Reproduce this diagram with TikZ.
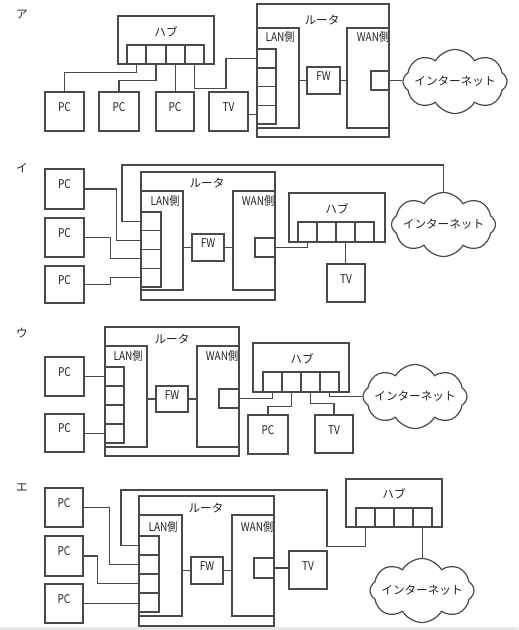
\documentclass[tikz,border=0pt]{standalone}
\usepackage{fontspec}
\newfontfamily\jp{Noto Sans CJK JP}
\newfontfamily\jpc[FakeStretch=0.84]{Noto Sans CJK JP}
\usetikzlibrary{fit,shapes.symbols}
\definecolor{lc}{HTML}{4A4A4A}
\definecolor{tc}{HTML}{222222}
\tikzset{
  bx/.style={draw=lc,line width=0.9pt,inner sep=0pt,font=\jpc\fontsize{9}{10}\selectfont,text=tc},
  lbl/.style={font=\jp\fontsize{8.7}{10}\selectfont,text=tc,inner sep=0pt},
  lblc/.style={font=\jpc\fontsize{9}{10}\selectfont,text=tc,inner sep=0pt},
  ln/.style={draw=lc,line width=0.9pt},
  cl/.style={cloud,cloud puffs=8,cloud puff arc=120,cloud ignores aspect,draw=lc,line width=0.9pt,fill=white,minimum width=78pt,minimum height=48pt,inner sep=0pt,shape border rotate=22.5}
}
\begin{document}
\begin{tikzpicture}[x=0.75pt,y=-0.75pt]
\useasboundingbox (0,0) rectangle (518,630);
\fill[gray!18] (0,627) rectangle (518,630);

% ===== Panel A =====
\node[lbl] (aL) at (22,15) {ア};
\node[bx,fit={(118,16)(214,64)}] (ahub) {};
\node[lbl] (ahubt) at (166,32) {ハブ};
\node[bx,fit={(127,45)(146,64)}] (ahp1) {};
\node[bx,fit={(146,45)(166,64)}] (ahp2) {};
\node[bx,fit={(166,45)(185,64)}] (ahp3) {};
\node[bx,fit={(185,45)(204,64)}] (ahp4) {};
\node[bx,fit={(45,92)(84,131)}] (apc1) {PC};
\node[bx,fit={(99,92)(139,131)}] (apc2) {PC};
\node[bx,fit={(156,92)(194,131)}] (apc3) {PC};
\node[bx,fit={(209,92)(248,131)}] (atv) {TV};
\node[bx,fit={(257,4)(389,137)}] (art) {};
\node[lbl] (artt) at (322,20) {ルータ};
\node[bx,fit={(257,28)(299,128)}] (alan) {};
\node[lblc] (alant) at (280,37) {LAN側};
\node[bx,fit={(257,49)(276,68)}] (alp1) {};
\node[bx,fit={(257,68)(276,86.5)}] (alp2) {};
\node[bx,fit={(257,86.5)(276,105.5)}] (alp3) {};
\node[bx,fit={(257,105.5)(276,124)}] (alp4) {};
\node[bx,fit={(307,67)(340,94)}] (afw) {FW};
\node[bx,fit={(347,28)(389,128)}] (awan) {};
\node[lblc] (awant) at (373,37) {WAN側};
\node[bx,fit={(371,71)(389,90)}] (awp) {};
\node[cl] (acl) at (455,81.5) {};
\node[lbl] (aclt) at (acl) {インターネット};
\draw[ln] (ahp1.south) -- ++(0,8) -| (apc1.north);
\draw[ln] (ahp2.south) -- ++(0,16) -| (apc2.north);
\draw[ln] (ahp3.south) -- (ahp3.south |- apc3.north);
\draw[ln] (ahp4.south) -- ++(0,24) -- ++(31.5,0) |- (alp1.west);
\draw[ln] (atv.east |- alp4.west) -- (alp4.west);
\draw[ln] (alan.east |- afw.west) -- (afw.west);
\draw[ln] (afw.east) -- (afw.east -| awan.west);
\draw[ln] (awp.east) -- (awp.east -| acl.west);

% ===== Panel I =====
\node[lbl] (bL) at (22,168) {イ};
\node[bx,fit={(45,169)(84,209)}] (bpc1) {PC};
\node[bx,fit={(45,218)(84,257)}] (bpc2) {PC};
\node[bx,fit={(45,266)(84,303)}] (bpc3) {PC};
\node[bx,fit={(141,172)(275,300)}] (brt) {};
\node[lbl] (brtt) at (207,183) {ルータ};
\node[bx,fit={(141,191)(183,290)}] (blan) {};
\node[lblc] (blant) at (165,201) {LAN側};
\node[bx,fit={(141,212)(161,230.75)}] (blp1) {};
\node[bx,fit={(141,230.75)(161,249.5)}] (blp2) {};
\node[bx,fit={(141,249.5)(161,268.25)}] (blp3) {};
\node[bx,fit={(141,268.25)(161,287)}] (blp4) {};
\node[bx,fit={(192,234)(224,261)}] (bfw) {FW};
\node[bx,fit={(233,191)(275,290)}] (bwan) {};
\node[lblc] (bwant) at (258,201) {WAN側};
\node[bx,fit={(255,238)(275,257)}] (bwp) {};
\node[bx,fit={(289,193)(385,242)}] (bhub) {};
\node[lbl] (bhubt) at (337,209) {ハブ};
\node[bx,fit={(298,222)(317,242)}] (bhp1) {};
\node[bx,fit={(317,222)(336,242)}] (bhp2) {};
\node[bx,fit={(336,222)(355,242)}] (bhp3) {};
\node[bx,fit={(355,222)(374,242)}] (bhp4) {};
\node[bx,fit={(327,264)(365,302)}] (btv) {TV};
\node[cl] (bcl) at (443.5,224.5) {};
\node[lbl] (bclt) at (bcl) {インターネット};
\coordinate (bturn) at (122,165);
\draw[ln] (bcl.north) |- (bturn) |- (blp1.west);
\draw[ln] (bpc1.east) -- ++(32,0) |- (blp2.west);
\draw[ln] (bpc2.east) -- ++(26,0) |- (blp3.west);
\draw[ln] (bpc3.east) -- ++(26,0) |- (blp4.west);
\draw[ln] (blan.east |- bfw.west) -- (bfw.west);
\draw[ln] (bfw.east) -- (bfw.east -| bwan.west);
\draw[ln] (bwp.east) -| (bhp1.south);
\draw[ln] (bhp3.south) -- (bhp3.south |- btv.north);

% ===== Panel U =====
\node[lbl] (cL) at (22,333) {ウ};
\node[bx,fit={(45,357)(84,396)}] (cpc1) {PC};
\node[bx,fit={(45,414)(84,452)}] (cpc2) {PC};
\node[bx,fit={(105,327)(239,456)}] (crt) {};
\node[lbl] (crtt) at (172,339) {ルータ};
\node[bx,fit={(105,346)(147,447)}] (clan) {};
\node[lblc] (clant) at (128,356) {LAN側};
\node[bx,fit={(105,367)(124,386)}] (clp1) {};
\node[bx,fit={(105,386)(124,405)}] (clp2) {};
\node[bx,fit={(105,405)(124,424)}] (clp3) {};
\node[bx,fit={(105,424)(124,443)}] (clp4) {};
\node[bx,fit={(156,386)(188,412)}] (cfw) {FW};
\node[bx,fit={(197,346)(239,447)}] (cwan) {};
\node[lblc] (cwant) at (222,356) {WAN側};
\node[bx,fit={(219,389)(239,408)}] (cwp) {};
\node[bx,fit={(253,343)(349,392)}] (chub) {};
\node[lbl] (chubt) at (302,359) {ハブ};
\node[bx,fit={(263,372)(282,392)}] (chp1) {};
\node[bx,fit={(282,372)(301,392)}] (chp2) {};
\node[bx,fit={(301,372)(320,392)}] (chp3) {};
\node[bx,fit={(320,372)(339,392)}] (chp4) {};
\node[bx,fit={(248,415)(288,454)}] (cpc3) {PC};
\node[bx,fit={(315,415)(353,453)}] (ctv) {TV};
\node[cl] (ccl) at (415,396.5) {};
\node[lbl] (cclt) at (ccl) {インターネット};
\draw[ln] (cpc1.east) -- (cpc1.east -| clp1.west);
\draw[ln] (clp4.west -| cpc2.east) -- (clp4.west);
\draw[ln] (clan.east |- cfw.west) -- (cfw.west);
\draw[ln] (cfw.east) -- (cfw.east -| cwan.west);
\draw[ln] (cwp.east) -| (chp1.south);
\draw[ln] (chp2.south) -- ++(0,14) -| (cpc3.north);
\draw[ln] (chp3.south) -- ++(0,11) -| (ctv.north);
\draw[ln] (chp4.south) |- (ccl.west);

% ===== Panel E =====
\node[lbl] (dL) at (22,488) {エ};
\node[bx,fit={(45,488)(83,527)}] (dpc1) {PC};
\node[bx,fit={(45,536)(83,576)}] (dpc2) {PC};
\node[bx,fit={(45,584)(83,623)}] (dpc3) {PC};
\node[bx,fit={(139,496)(274,626)}] (drt) {};
\node[lbl] (drtt) at (206,508) {ルータ};
\node[bx,fit={(139,515)(182,616)}] (dlan) {};
\node[lblc] (dlant) at (163,527) {LAN側};
\node[bx,fit={(139,536)(159,555)}] (dlp1) {};
\node[bx,fit={(139,555)(159,574)}] (dlp2) {};
\node[bx,fit={(139,574)(159,593)}] (dlp3) {};
\node[bx,fit={(139,593)(159,612)}] (dlp4) {};
\node[bx,fit={(191,557)(223,584)}] (dfw) {FW};
\node[bx,fit={(232,515)(274,616)}] (dwan) {};
\node[lblc] (dwant) at (257,527) {WAN側};
\node[bx,fit={(254,558)(274,578)}] (dwp) {};
\node[bx,fit={(289,551)(327,589)}] (dtv) {TV};
\node[bx,fit={(346,479)(442,527)}] (dhub) {};
\node[lbl] (dhubt) at (394,494) {ハブ};
\node[bx,fit={(356,508)(375,527)}] (dhp1) {};
\node[bx,fit={(375,508)(394,527)}] (dhp2) {};
\node[bx,fit={(394,508)(413,527)}] (dhp3) {};
\node[bx,fit={(413,508)(432,527)}] (dhp4) {};
\node[cl] (dcl) at (422,590.5) {};
\node[lbl] (dclt) at (dcl) {インターネット};
\coordinate (dt1) at (327,490);
\coordinate (dt2) at (121,490);
\draw[ln] (dhp1.south) -- ++(0,19) -| (dt1) -- (dt2) |- (dlp1.west);
\draw[ln] (dhp4.south) -- (dhp4.south |- dcl.north);
\draw[ln] (dpc1.east) -- ++(26,0) |- (dlp2.west);
\draw[ln] (dpc2.east) -- ++(14,0) |- (dlp3.west);
\draw[ln] (dpc3.east) -- (dpc3.east -| dlp4.west);
\draw[ln] (dlan.east |- dfw.west) -- (dfw.west);
\draw[ln] (dfw.east) -- (dfw.east -| dwan.west);
\draw[ln] (dwp.east) -- (dwp.east -| dtv.west);
\end{tikzpicture}
\end{document}
